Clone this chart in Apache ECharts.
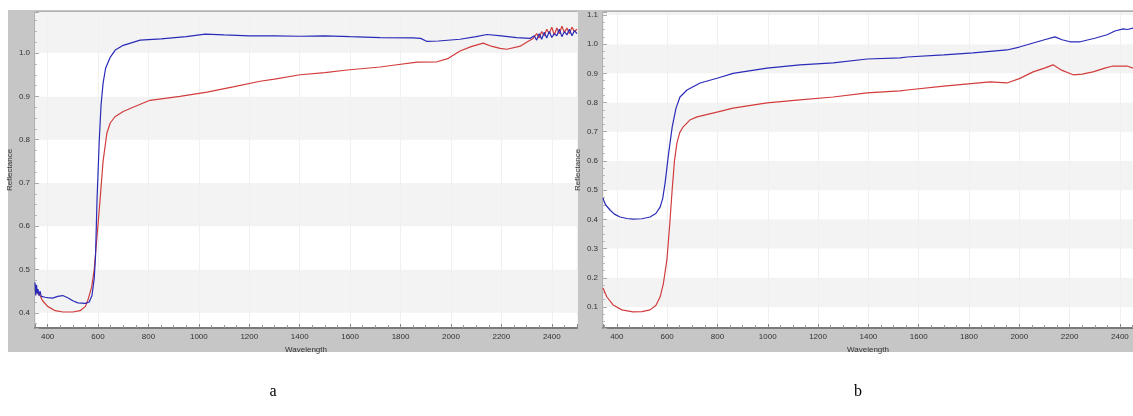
<!DOCTYPE html>
<html>
<head>
<meta charset="utf-8">
<script src="https://cdn.jsdelivr.net/npm/echarts@6/dist/echarts.min.js"></script>
<style>html,body{margin:0;padding:0;background:#fff;}#c{width:1133px;height:416px;}</style>
</head>
<body>
<div id="c"></div>
<script>
// Panel a
const aBlueX = [350,353,356,359,362,366,370,375,380,390,400,420,440,460,480,500,520,550,565,576,585,590,596,605,612,620,630,648,670,700,767,850,950,1025,1100,1200,1300,1402,1500,1600,1719,1850,1880,1905,1950,2036,2100,2143,2200,2260,2314,2330,2340,2350,2360,2370,2380,2390,2400,2410,2420,2430,2440,2450,2460,2470,2480,2490,2500];
const aBlueY = [0.47,0.44,0.465,0.445,0.455,0.44,0.45,0.438,0.442,0.436,0.435,0.434,0.438,0.44,0.435,0.428,0.423,0.422,0.425,0.44,0.48,0.53,0.66,0.8,0.88,0.93,0.965,0.99,1.008,1.018,1.03,1.033,1.038,1.044,1.042,1.04,1.04,1.039,1.04,1.038,1.036,1.035,1.034,1.027,1.028,1.032,1.038,1.043,1.04,1.036,1.034,1.04,1.03,1.045,1.032,1.048,1.035,1.05,1.036,1.045,1.04,1.055,1.038,1.05,1.042,1.055,1.04,1.052,1.045];
const aRedX = [350,360,370,380,400,430,461,500,529,550,560,575,585,595,608,620,635,648,667,700,739,806,925,1032,1136,1243,1300,1402,1500,1588,1719,1771,1866,1945,1990,2036,2080,2128,2160,2195,2222,2275,2300,2326,2340,2350,2360,2370,2380,2390,2400,2410,2420,2430,2440,2450,2460,2470,2480,2490,2500];
const aRedY = [0.455,0.445,0.44,0.428,0.415,0.405,0.402,0.402,0.405,0.415,0.43,0.46,0.5,0.57,0.66,0.75,0.815,0.838,0.853,0.865,0.875,0.891,0.9,0.91,0.922,0.935,0.94,0.95,0.955,0.961,0.968,0.972,0.979,0.98,0.988,1.005,1.015,1.023,1.016,1.011,1.009,1.016,1.025,1.034,1.045,1.035,1.05,1.04,1.055,1.045,1.06,1.042,1.058,1.045,1.062,1.048,1.058,1.045,1.06,1.05,1.055];
// Panel b
const bBlueX = [345,350,355,373,390,413,440,464,500,532,555,572,582,592,605,620,635,651,679,731,802,862,997,1128,1260,1395,1526,1554,1700,1816,1951,2000,2055,2100,2142,2170,2202,2242,2300,2349,2380,2413,2430,2452];
const bBlueY = [0.473,0.46,0.45,0.432,0.418,0.408,0.403,0.401,0.402,0.408,0.42,0.442,0.47,0.525,0.62,0.716,0.78,0.819,0.843,0.867,0.884,0.9,0.918,0.929,0.936,0.949,0.953,0.956,0.963,0.97,0.98,0.99,1.004,1.015,1.025,1.015,1.008,1.008,1.02,1.032,1.045,1.052,1.05,1.055];
const bRedX = [345,360,385,420,464,500,532,555,572,585,599,610,619,629,639,650,663,690,719,802,862,997,1128,1260,1395,1526,1554,1700,1884,1951,2000,2055,2100,2134,2170,2214,2250,2293,2340,2373,2428,2452];
const bRedY = [0.165,0.135,0.107,0.09,0.083,0.084,0.09,0.105,0.134,0.18,0.261,0.38,0.49,0.6,0.662,0.697,0.716,0.74,0.751,0.768,0.781,0.799,0.809,0.819,0.833,0.84,0.843,0.856,0.871,0.867,0.882,0.905,0.918,0.929,0.91,0.895,0.897,0.905,0.918,0.925,0.925,0.918];

const xNameText = 'Wavelength';
const yNameText = 'Reflectance';
const captions = ['a', 'b'];

function zip(xs, ys) { return xs.map((x, i) => [x, ys[i]]); }

const labelFont = {fontFamily: 'Liberation Sans, Arial, sans-serif', fontSize: 8, color: '#333'};
function tenths(v) {
  const r = Math.round(v * 10) / 10;
  return Math.abs(r - v) < 1e-6 ? r.toFixed(1) : '';
}

function xAxis(gi, min, max) {
  return {
    type: 'value', gridIndex: gi, min: min, max: max, splitNumber: 10,
    name: xNameText, nameLocation: 'middle', nameGap: 16,
    nameTextStyle: labelFont,
    axisLine: {show: true, onZero: false, lineStyle: {color: '#7a7a7a', width: 2}},
    axisTick: {show: true, inside: true, length: 4, lineStyle: {color: '#888'}},
    minorTick: {show: true, splitNumber: 4, length: 3, lineStyle: {color: '#999'}},
    axisLabel: Object.assign({margin: 5, showMinLabel: false, showMaxLabel: false,
      formatter: v => (v % 200 === 0 ? String(v) : '')}, labelFont),
    splitLine: {show: true, lineStyle: {color: '#f0f0f0', width: 1}}
  };
}
function yAxis(gi, min, max, sn) {
  return {
    type: 'value', gridIndex: gi, min: min, max: max, splitNumber: sn,
    name: yNameText, nameLocation: 'middle', nameGap: 21, nameRotate: 90,
    nameTextStyle: labelFont,
    axisLine: {show: false},
    axisTick: {show: true, inside: true, length: 4, lineStyle: {color: '#aaa'}},
    minorTick: {show: true, splitNumber: 4, length: 2, lineStyle: {color: '#bbb'}},
    axisLabel: Object.assign({margin: 5, formatter: tenths}, labelFont),
    splitLine: {show: false},
    splitArea: {show: true, areaStyle: {color: ['#ffffff', '#f3f3f3']}}
  };
}
function line(xi, data, color) {
  return {type: 'line', xAxisIndex: xi, yAxisIndex: xi, data: data, showSymbol: false,
    symbol: 'none', smooth: false, lineStyle: {color: color, width: 1.2}, z: 3, silent: true};
}

const chart = echarts.init(document.getElementById('c'), null, {renderer: 'canvas'});
chart.setOption({
  animation: false,
  backgroundColor: '#ffffff',
  graphic: [
    {type: 'rect', z: -10, shape: {x: 8, y: 10, width: 571, height: 342}, style: {fill: '#c6c6c6'}},
    {type: 'rect', z: -10, shape: {x: 578, y: 10, width: 555, height: 342}, style: {fill: '#c6c6c6'}},
    {type: 'text', z: 10, x: 273, y: 392, style: {text: captions[0], font: '16px "Liberation Serif", serif', fill: '#000', align: 'center', verticalAlign: 'middle'}},
    {type: 'text', z: 10, x: 858, y: 392, style: {text: captions[1], font: '16px "Liberation Serif", serif', fill: '#000', align: 'center', verticalAlign: 'middle'}}
  ],
  grid: [
    {left: 35, top: 12, width: 542, height: 316, show: true, backgroundColor: '#fff', borderColor: '#9a9a9a', borderWidth: 1},
    {left: 603, top: 12, width: 530, height: 316, show: true, backgroundColor: '#fff', borderColor: '#9a9a9a', borderWidth: 1}
  ],
  xAxis: [xAxis(0, 350, 2500), xAxis(1, 345, 2452)],
  yAxis: [yAxis(0, 0.365, 1.095, 7), yAxis(1, 0.028, 1.11, 10)],
  series: [
    line(0, zip(aRedX, aRedY), '#d23c3c'),
    line(0, zip(aBlueX, aBlueY), '#2a2ab8'),
    line(1, zip(bRedX, bRedY), '#d23c3c'),
    line(1, zip(bBlueX, bBlueY), '#2a2ab8')
  ]
});
</script>
</body>
</html>
